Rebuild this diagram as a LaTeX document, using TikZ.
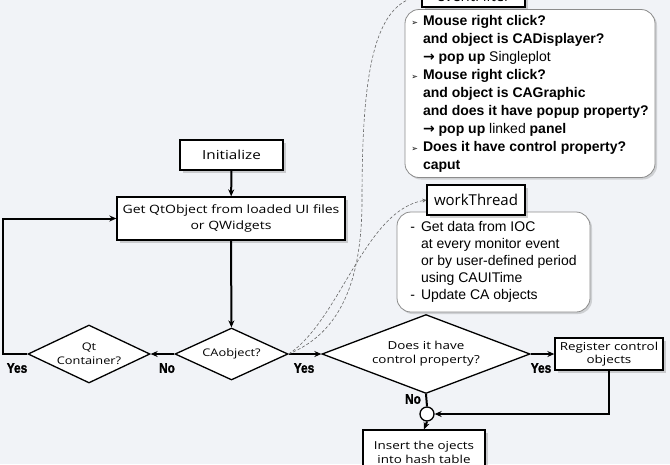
\documentclass[tikz,border=0pt]{standalone}
\usepackage{fontspec}
\setmainfont{Open Sans}[FakeStretch=1.22]
\newfontfamily\plainfont{Open Sans}
\newfontfamily\panelfont{Liberation Sans}
\newfontfamily\symfont{DejaVu Sans}
\newfontfamily\labelfont[FakeStretch=0.85,FakeBold=1.5]{Liberation Sans Bold}
\usetikzlibrary{shapes.geometric,arrows.meta,shadows}
\definecolor{bgcol}{RGB}{241,243,247}
\tikzset{
  box/.style={draw, line width=1.3pt, fill=white, align=center, inner sep=2pt,
    font=\fontsize{11}{13.5}\selectfont,
    drop shadow={shadow xshift=2.5pt, shadow yshift=-2.5pt, opacity=0.35}},
  decision/.style={diamond, draw, line width=1.3pt, fill=white, align=center,
    inner sep=0pt, aspect=2, font=\fontsize{10.5}{14}\selectfont},
  panel/.style={draw=black!45, line width=0.8pt, rounded corners=14pt, fill=white,
    inner sep=3pt, drop shadow={shadow xshift=2pt, shadow yshift=-2pt, opacity=0.3}},
  flow/.style={line width=2pt, -{Stealth[length=7pt,width=6pt]}},
  hint/.style={densely dashed, black!60, line width=0.6pt, -{Stealth[length=4pt,width=4pt]}},
  yesno/.style={font=\labelfont\fontsize{14}{14}\selectfont, inner sep=0pt}
}
\newcommand{\evbul}{{\symfont\fontsize{8}{8}\selectfont ➢}}
\newcommand{\rarr}{{\symfont →}}
\begin{document}
\begin{tikzpicture}[x=1pt,y=-1pt]
  \fill[bgcol] (0,0) rectangle (670,464);
  \clip (0,0) rectangle (670,464);
  \useasboundingbox (0,0) rectangle (670,464);
  % panels
  \node[panel, minimum width=250, minimum height=163,
        font=\panelfont\bfseries\fontsize{14}{18}\selectfont] (evpanel) at (530,93.5) {%
    \begin{tabular}{@{}l@{\hspace{5pt}}l@{}}
      \evbul & Mouse right click?\\
             & and object is CADisplayer?\\
             & \rarr\ pop up {\mdseries Singleplot}\\
      \evbul & Mouse right click?\\
             & and object is CAGraphic\\
             & and does it have popup property?\\
             & \rarr\ pop up {\mdseries linked} panel\\
      \evbul & Does it have control property?\\
             & caput
    \end{tabular}};
  \node[panel, minimum width=193, minimum height=100,
        font=\panelfont\fontsize{14}{17}\selectfont] (wtpanel) at (493.5,262) {%
    \begin{tabular}{@{}l@{\hspace{6pt}}l@{}}
      - & Get data from IOC\\
        & at every monitor event\\
        & or by user-defined period\\
        & using CAUITime\\
      - & Update CA objects
    \end{tabular}};
  %
  \node[box, minimum width=103, minimum height=22, font=\plainfont\fontsize{15}{17}\selectfont] (evfilter) at (473.5,-4) {eventFilter};
  \node[box, minimum width=98, minimum height=30, font=\plainfont\fontsize{15}{17}\selectfont] (wthread) at (476,200) {workThread};
  \node[box, minimum width=103, minimum height=30, font=\fontsize{12.5}{15}\selectfont] (init) at (231.5,155) {Initialize};
  \node[box, minimum width=228, minimum height=43, font=\fontsize{11.5}{16.5}\selectfont] (getobj) at (231,218.5) {Get QtObject from loaded UI files\\or QWidgets};
  \node[decision, minimum width=113, minimum height=52] (caobj) at (231.5,354) {CAobject?};
  \node[decision, minimum width=122, minimum height=58] (qtcont) at (89,354) {Qt\\Container?};
  \node[decision, minimum width=208, minimum height=72, font=\fontsize{11}{14}\selectfont] (ctrlprop) at (426,354) {Does it have\\control property?};
  \node[box, minimum width=108, minimum height=32] (regctrl) at (609,354) {Register control\\objects};
  \node[circle, draw, line width=1.3pt, fill=white, minimum size=14, inner sep=0pt] (join) at (427,414) {};
  \node[box, minimum width=122, minimum height=45, font=\fontsize{11}{14}\selectfont] (insert) at (424,452.5) {Insert the ojects\\into hash table};
  \coordinate (leftturn) at (3,354);
  %
  \node[yesno] (yes1) at (17,368) {Yes};
  \node[yesno] (no1) at (167,368) {No};
  \node[yesno] (yes2) at (304,368) {Yes};
  \node[yesno] (yes3) at (541,368) {Yes};
  \node[yesno] (no2) at (413,399) {No};
  %
  \draw[flow] (init) -- (getobj);
  \draw[flow] (getobj) -- (caobj);
  \draw[flow] (caobj.west) -- (qtcont.east);
  \draw[flow] (qtcont.west) -- (leftturn) |- (getobj.west);
  \draw[flow] (caobj.east) -- (ctrlprop.west);
  \draw[flow] (ctrlprop.east) -- (regctrl.west);
  \draw[flow] (regctrl.south) |- (join.east);
  \draw[line width=2pt] (ctrlprop.south) -- (join.north);
  \draw[flow] (join.south) -- (insert.north);
  %
  \draw[hint] (caobj.east) .. controls (335,335) and (362,290) .. (362,200)
    .. controls (362,80) and (372,4) .. (evfilter.west);
  \draw[hint] (caobj.east) .. controls (340,320) and (365,210) .. (wthread.west);
\end{tikzpicture}
\end{document}
